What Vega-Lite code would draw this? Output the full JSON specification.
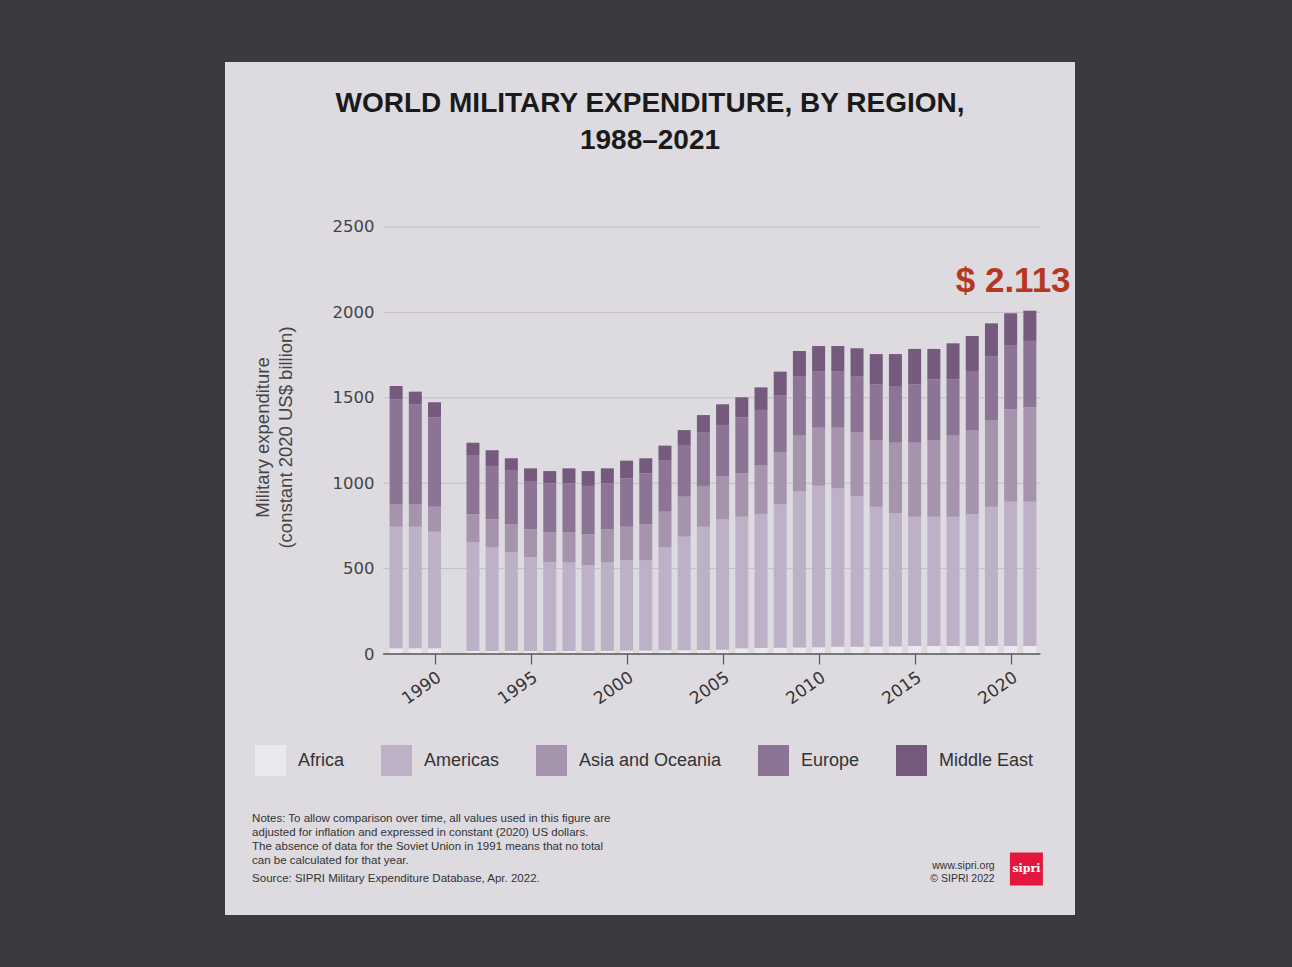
{
  "$schema": "https://vega.github.io/schema/vega-lite/v6.json",
  "width": 850,
  "height": 853,
  "autosize": {"type": "none"},
  "padding": {"left": 225, "top": 62, "right": 217, "bottom": 52},
  "background": "#3a3b3e",
  "config": {
    "view": {"fill": "#dddae0", "stroke": null},
    "font": "Liberation Sans"
  },
  "title": {
    "text": ["WORLD MILITARY EXPENDITURE, BY REGION,", "1988–2021"],
    "anchor": "middle",
    "orient": "top",
    "offset": -93,
    "fontSize": 28,
    "fontWeight": "bold",
    "color": "#1a1a1a",
    "lineHeight": 37,
    "font": "Liberation Sans"
  },
  "layer": [
    {
      "data": {"values": [{"g": 500}, {"g": 1000}, {"g": 1500}, {"g": 2000}, {"g": 2500}]},
      "mark": {"type": "rule", "color": "#c2bec8", "strokeWidth": 1},
      "encoding": {
        "y": {"field": "g", "type": "quantitative"},
        "x": {"datum": 1987.32, "type": "quantitative"},
        "x2": {"datum": 2021.55}
      }
    },
    {
      "data": {"values": [
        {"year": 1988, "Africa": 33, "Americas": 712, "Asia and Oceania": 131, "Europe": 615, "Middle East": 78},
        {"year": 1989, "Africa": 33, "Americas": 712, "Asia and Oceania": 131, "Europe": 586, "Middle East": 74},
        {"year": 1990, "Africa": 33, "Americas": 683, "Asia and Oceania": 146, "Europe": 524, "Middle East": 88},
        {"year": 1992, "Africa": 18, "Americas": 636, "Asia and Oceania": 164, "Europe": 347, "Middle East": 72},
        {"year": 1993, "Africa": 18, "Americas": 608, "Asia and Oceania": 163, "Europe": 312, "Middle East": 92},
        {"year": 1994, "Africa": 18, "Americas": 577, "Asia and Oceania": 164, "Europe": 314, "Middle East": 73},
        {"year": 1995, "Africa": 18, "Americas": 550, "Asia and Oceania": 162, "Europe": 283, "Middle East": 74},
        {"year": 1996, "Africa": 18, "Americas": 521, "Asia and Oceania": 175, "Europe": 285, "Middle East": 72},
        {"year": 1997, "Africa": 18, "Americas": 519, "Asia and Oceania": 177, "Europe": 285, "Middle East": 88},
        {"year": 1998, "Africa": 18, "Americas": 503, "Asia and Oceania": 180, "Europe": 283, "Middle East": 87},
        {"year": 1999, "Africa": 18, "Americas": 519, "Asia and Oceania": 193, "Europe": 269, "Middle East": 88},
        {"year": 2000, "Africa": 20, "Americas": 529, "Asia and Oceania": 196, "Europe": 284, "Middle East": 103},
        {"year": 2001, "Africa": 20, "Americas": 530, "Asia and Oceania": 209, "Europe": 299, "Middle East": 88},
        {"year": 2002, "Africa": 22, "Americas": 604, "Asia and Oceania": 207, "Europe": 299, "Middle East": 88},
        {"year": 2003, "Africa": 22, "Americas": 665, "Asia and Oceania": 234, "Europe": 303, "Middle East": 87},
        {"year": 2004, "Africa": 24, "Americas": 721, "Asia and Oceania": 239, "Europe": 312, "Middle East": 103},
        {"year": 2005, "Africa": 25, "Americas": 765, "Asia and Oceania": 252, "Europe": 299, "Middle East": 121},
        {"year": 2006, "Africa": 33, "Americas": 771, "Asia and Oceania": 254, "Europe": 328, "Middle East": 117},
        {"year": 2007, "Africa": 35, "Americas": 785, "Asia and Oceania": 283, "Europe": 326, "Middle East": 132},
        {"year": 2008, "Africa": 37, "Americas": 841, "Asia and Oceania": 301, "Europe": 337, "Middle East": 137},
        {"year": 2009, "Africa": 38, "Americas": 916, "Asia and Oceania": 328, "Europe": 342, "Middle East": 150},
        {"year": 2010, "Africa": 40, "Americas": 945, "Asia and Oceania": 340, "Europe": 328, "Middle East": 150},
        {"year": 2011, "Africa": 42, "Americas": 928, "Asia and Oceania": 355, "Europe": 328, "Middle East": 150},
        {"year": 2012, "Africa": 42, "Americas": 883, "Asia and Oceania": 371, "Europe": 328, "Middle East": 166},
        {"year": 2013, "Africa": 44, "Americas": 818, "Asia and Oceania": 391, "Europe": 326, "Middle East": 177},
        {"year": 2014, "Africa": 44, "Americas": 780, "Asia and Oceania": 413, "Europe": 328, "Middle East": 191},
        {"year": 2015, "Africa": 47, "Americas": 757, "Asia and Oceania": 433, "Europe": 342, "Middle East": 207},
        {"year": 2016, "Africa": 47, "Americas": 757, "Asia and Oceania": 449, "Europe": 355, "Middle East": 178},
        {"year": 2017, "Africa": 47, "Americas": 757, "Asia and Oceania": 478, "Europe": 326, "Middle East": 211},
        {"year": 2018, "Africa": 47, "Americas": 771, "Asia and Oceania": 493, "Europe": 346, "Middle East": 205},
        {"year": 2019, "Africa": 47, "Americas": 815, "Asia and Oceania": 508, "Europe": 371, "Middle East": 195},
        {"year": 2020, "Africa": 47, "Americas": 845, "Asia and Oceania": 541, "Europe": 372, "Middle East": 190},
        {"year": 2021, "Africa": 47, "Americas": 845, "Asia and Oceania": 552, "Europe": 389, "Middle East": 177}
      ]},
      "transform": [
        {"fold": ["Africa", "Americas", "Asia and Oceania", "Europe", "Middle East"], "as": ["region", "value"]}
      ],
      "mark": {"type": "bar", "width": 13},
      "encoding": {
        "x": {
          "field": "year",
          "type": "quantitative",
          "scale": {"domain": [1979.35, 2023.09], "nice": false, "zero": false},
          "axis": {
            "orient": "bottom",
            "offset": -261,
            "values": [1990, 1995, 2000, 2005, 2010, 2015, 2020],
            "format": "d",
            "domain": false,
            "grid": false,
            "ticks": true,
            "tickSize": 10,
            "tickColor": "#555555",
            "tickWidth": 1.2,
            "labelAngle": -35,
            "labelFont": "DejaVu Sans",
            "labelFontSize": 17,
            "labelColor": "#333333",
            "labelPadding": 5,
            "labelFlush": false,
            "labelOverlap": false,
            "title": null
          }
        },
        "y": {
          "field": "value",
          "type": "quantitative",
          "stack": "zero",
          "scale": {"domain": [-1528, 3466], "nice": false, "zero": false},
          "axis": {
            "orient": "left",
            "offset": -155,
            "values": [0, 500, 1000, 1500, 2000, 2500],
            "format": "d",
            "domain": false,
            "ticks": false,
            "grid": false,
            "labelFont": "DejaVu Sans",
            "labelFontSize": 16.5,
            "labelColor": "#444444",
            "labelPadding": 6,
            "labelFlush": false,
            "title": ["Military expenditure", "(constant 2020 US$ billion)"],
            "titleFontSize": 18.5,
            "titleFontWeight": "normal",
            "titleColor": "#444444",
            "titleX": -118,
            "titleY": 375,
            "titleAngle": -90,
            "titleAlign": "center",
            "titleBaseline": "middle",
            "titleLineHeight": 23
          }
        },
        "order": {"field": "region", "type": "ordinal", "sort": "ascending"},
        "color": {
          "field": "region",
          "type": "nominal",
          "scale": {
            "domain": ["Africa", "Americas", "Asia and Oceania", "Europe", "Middle East"],
            "range": ["#ebe8ee", "#bcb1c7", "#a594ac", "#8c7594", "#765a7d"]
          },
          "legend": {
            "title": null,
            "orient": "none",
            "legendX": 30,
            "legendY": 683,
            "direction": "horizontal",
            "symbolType": "square",
            "symbolSize": 961,
            "symbolStrokeWidth": 0,
            "labelFontSize": 18,
            "labelColor": "#333333",
            "labelOffset": 12,
            "columnPadding": 36,
            "padding": 0
          }
        }
      }
    },
    {
      "data": {"values": [{"g": 0}]},
      "mark": {"type": "rule", "color": "#555555", "strokeWidth": 1.5},
      "encoding": {
        "y": {"field": "g", "type": "quantitative"},
        "x": {"datum": 1987.32, "type": "quantitative"},
        "x2": {"datum": 2021.55}
      }
    },
    {
      "data": {"values": [{"t": "$ 2.113"}]},
      "mark": {"type": "text", "fontSize": 35, "fontWeight": "bold", "color": "#b5381e", "align": "center", "baseline": "middle"},
      "encoding": {
        "text": {"field": "t"},
        "x": {"datum": 2020.13, "type": "quantitative"},
        "y": {"datum": 2184, "type": "quantitative"}
      }
    },
    {
      "data": {"values": [{"t": "Notes: To allow comparison over time, all values used in this figure are\nadjusted for inflation and expressed in constant (2020) US dollars.\nThe absence of data for the Soviet Union in 1991 means that no total\ncan be calculated for that year."}]},
      "mark": {"type": "text", "fontSize": 11.5, "lineHeight": 14, "color": "#333333", "align": "left", "baseline": "top", "lineBreak": "\n"},
      "encoding": {
        "text": {"field": "t"},
        "x": {"datum": 1980.5, "type": "quantitative"},
        "y": {"datum": -930, "type": "quantitative"}
      }
    },
    {
      "data": {"values": [{"t": "Source: SIPRI Military Expenditure Database, Apr. 2022."}]},
      "mark": {"type": "text", "fontSize": 11.5, "color": "#333333", "align": "left", "baseline": "top"},
      "encoding": {
        "text": {"field": "t"},
        "x": {"datum": 1980.5, "type": "quantitative"},
        "y": {"datum": -1284, "type": "quantitative"}
      }
    },
    {
      "data": {"values": [{"t": "www.sipri.org\n© SIPRI 2022"}]},
      "mark": {"type": "text", "fontSize": 10.5, "lineHeight": 13, "color": "#333333", "align": "right", "baseline": "top", "lineBreak": "\n"},
      "encoding": {
        "text": {"field": "t"},
        "x": {"datum": 2019.17, "type": "quantitative"},
        "y": {"datum": -1212, "type": "quantitative"}
      }
    },
    {
      "data": {"values": [{"logo": "sipri"}]},
      "mark": {"type": "point", "shape": "square", "filled": true, "size": 1089, "color": "#e3173e", "opacity": 1},
      "encoding": {
        "x": {"datum": 2020.82, "type": "quantitative"},
        "y": {"datum": -1259, "type": "quantitative"}
      }
    },
    {
      "data": {"values": [{"logo": "sipri"}]},
      "mark": {"type": "text", "fontSize": 11, "fontWeight": "bold", "font": "DejaVu Serif", "color": "#ffffff", "align": "center", "baseline": "middle"},
      "encoding": {
        "text": {"field": "logo"},
        "x": {"datum": 2020.82, "type": "quantitative"},
        "y": {"datum": -1259, "type": "quantitative"}
      }
    }
  ]
}
